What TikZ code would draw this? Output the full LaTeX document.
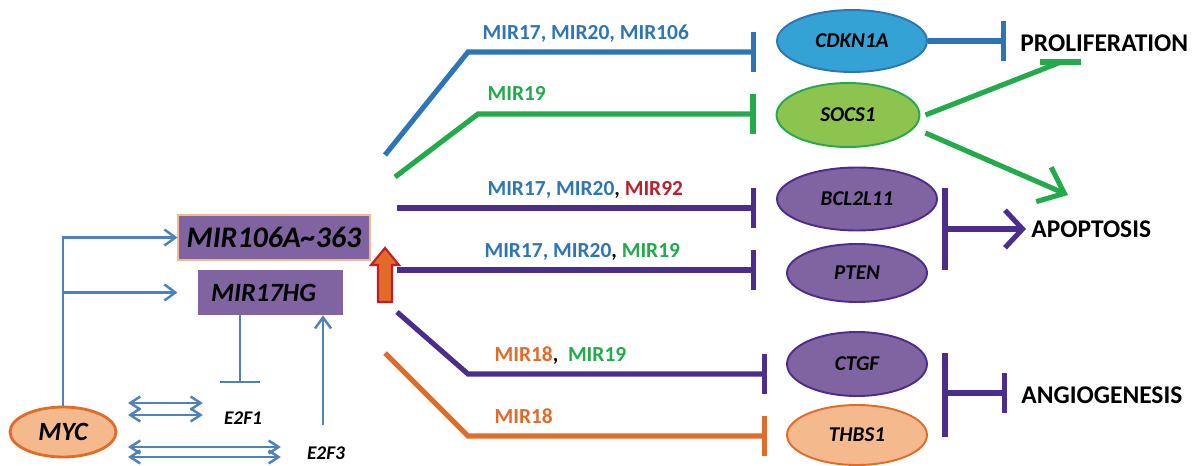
\documentclass[tikz,border=0pt]{standalone}
\usepackage{fontspec}
\setmainfont{Carlito}
\usetikzlibrary{positioning,calc,arrows.meta,shapes.geometric}
\definecolor{mblue}{RGB}{46,117,182}
\definecolor{lblue}{RGB}{79,129,189}
\definecolor{mgreen}{RGB}{34,170,75}
\definecolor{mpurple}{RGB}{75,45,140}
\definecolor{ppurple}{RGB}{128,100,162}
\definecolor{morange}{RGB}{226,107,40}
\definecolor{porange}{RGB}{244,185,140}
\definecolor{mred}{RGB}{192,30,40}
\definecolor{cblue}{RGB}{53,162,214}
\definecolor{cgreen}{RGB}{141,196,79}

\begin{document}
\begin{tikzpicture}[x=0.02cm,y=-0.02cm,
    gene/.style={ellipse, draw, line width=1.1pt, inner sep=0pt, font=\bfseries\itshape\fontsize{12}{14}\selectfont},
    mirbox/.style={rectangle, fill=ppurple, inner sep=0pt, font=\bfseries\itshape\fontsize{17}{20}\selectfont},
    fate/.style={anchor=west, inner sep=0pt, font=\bfseries\fontsize{14.5}{17}\selectfont},
    mirlabel/.style={anchor=base west, inner sep=0pt, yshift=0.25cm, font=\bfseries\fontsize{12.2}{14}\selectfont},
    tf/.style={lblue, line width=1.4pt},
    barbend/.style={-{Straight Barb[length=0.22cm, width=0.32cm]}},
    dblbarb/.style={{Straight Barb[length=0.2cm, width=0.26cm]}-{Straight Barb[length=0.2cm, width=0.26cm]}},
    bigline/.style={line width=2.9pt},
    tee/.style={-{Bar[width=0.8cm]}},
]
\useasboundingbox (0,0) rectangle (1200,466);

% regulators on the left
\node[gene, fill=porange, draw=morange, line width=1.6pt, minimum width=2.12cm, minimum height=1cm,
    font=\bfseries\itshape\fontsize{15}{18}\selectfont] (myc) at (63,432) {MYC};
\node[mirbox, draw=porange, line width=0.6pt, minimum width=3.84cm, minimum height=0.9cm] (mirA) at (274,237.5) {MIR106A\textasciitilde363};
\node[mirbox, minimum width=2.9cm, minimum height=0.9cm, text width=2.9cm, align=left, inner xsep=0pt,
    font=\bfseries\itshape\fontsize{15}{18}\selectfont] (mirHG) at (270.5,292.5) {\hspace*{0.26cm}MIR17HG};
\node[font=\bfseries\itshape\fontsize{11}{13}\selectfont] (e2fone) at (243,418) {E2F1};
\node[font=\bfseries\itshape\fontsize{11}{13}\selectfont] (e2fthree) at (326,453) {E2F3};

\draw[tf, barbend] (myc.north) |- (mirA.west);
\draw[tf, barbend] (myc.north |- mirHG.west) -- (mirHG.west -| mirA.west);

\coordinate (teeF) at (240,383);
\draw[tf, -{Bar[width=0.8cm]}] (mirHG.south -| teeF) -- (teeF);
\coordinate (upF) at (323,425);
\draw[tf, barbend] (upF) -- (upF |- mirHG.south);

\foreach \yy in {403,415}
    \draw[tf, dblbarb, shorten >=0.3cm] (128,\yy) -- (e2fone.west |- 0,\yy);
\foreach \yy in {447,457}
    \draw[tf, dblbarb, shorten >=0.4cm] (128,\yy) -- (e2fthree.west |- 0,\yy);

% up arrow
\draw[fill=morange, draw=mred, line width=1.2pt] (378,302) -- (378,265) -- (371,265) -- (385,248) -- (399,265) -- (392,265) -- (392,302) -- cycle;

% targets
\node[gene, fill=cblue, draw=mblue, minimum width=3cm, minimum height=1.24cm] (cdkn) at (852,41) {CDKN1A};
\node[gene, fill=cgreen, draw=mgreen, minimum width=2.86cm, minimum height=1.28cm] (socs) at (848,115) {SOCS1};
\node[gene, fill=ppurple, draw=mpurple, minimum width=3.2cm, minimum height=1.26cm] (bcl) at (857,199) {BCL2L11};
\node[gene, fill=ppurple, draw=mpurple, minimum width=2.8cm, minimum height=1.16cm] (pten) at (857,273) {PTEN};
\node[gene, fill=ppurple, draw=mpurple, minimum width=2.8cm, minimum height=1.28cm] (ctgf) at (857,364) {CTGF};
\node[gene, fill=porange, draw=morange, minimum width=2.8cm, minimum height=1.2cm] (thbs) at (857,435) {THBS1};

\node[fate] (prolif) at (1020,43) {PROLIFERATION};
\node[fate] (apop) at (1031,229) {APOPTOSIS};
\node[fate] (angio) at (1021,395) {ANGIOGENESIS};

% microRNA repression
\coordinate (sBlue) at (385,155);
\coordinate (kBlue) at (468,52);
\draw[bigline, mblue, tee, shorten >=0.4cm] (sBlue) -- (kBlue)
    -- node[pos=0, mirlabel, xshift=0.24cm] {\textcolor{mblue}{MIR17, MIR20, MIR106}} (kBlue -| cdkn.west);

\coordinate (sGreen) at (395,177);
\coordinate (kGreen) at (478,114);
\draw[bigline, mgreen, tee, shorten >=0.4cm] (sGreen) -- (kGreen)
    -- node[pos=0, mirlabel, xshift=0.14cm, yshift=0.03cm] {\textcolor{mgreen}{MIR19}} (kGreen -| socs.west);

\coordinate (sBcl) at (397,208);
\draw[bigline, mpurple, tee, shorten >=0.4cm] (sBcl)
    -- node[pos=0, mirlabel, xshift=1.76cm] {\textcolor{mblue}{MIR17, MIR20}\textcolor{black}{,} \textcolor{mred}{MIR92}} (sBcl -| bcl.west);

\coordinate (sPten) at (397,270);
\draw[bigline, mpurple, tee, shorten >=0.6cm] (sPten)
    -- node[pos=0, mirlabel, xshift=1.7cm] {\textcolor{mblue}{MIR17, MIR20}\textcolor{black}{,} \textcolor{mgreen}{MIR19}} (sPten -| pten.west);

\coordinate (sCtgf) at (397,312);
\coordinate (kCtgf) at (468,374);
\draw[bigline, mpurple, tee, shorten >=0.38cm] (sCtgf) -- (kCtgf)
    -- node[pos=0, mirlabel, xshift=0.48cm] {\textcolor{morange}{MIR18}\textcolor{black}{,}\ \ \textcolor{mgreen}{MIR19}} (kCtgf -| ctgf.west);

\coordinate (sThbs) at (385,353);
\coordinate (kThbs) at (468,436);
\draw[bigline, morange, tee, shorten >=0.38cm] (sThbs) -- (kThbs)
    -- node[pos=0, mirlabel, xshift=0.48cm] {\textcolor{morange}{MIR18}} (kThbs -| thbs.west);

% outcomes
\draw[bigline, mblue, tee, shorten >=0.28cm] (cdkn.east) -- (cdkn.east -| prolif.west);

\coordinate (pBar) at (1061,62);
\draw[bigline, mgreen] ([xshift=0.1cm]socs.east) -- (pBar);
\draw[bigline, mgreen] ([xshift=-0.42cm]pBar) -- ([xshift=0.4cm]pBar);
\coordinate (aTip) at (1068,195);
\draw[bigline, mgreen, -{Straight Barb[length=0.45cm, width=0.75cm]}] ($(socs.east)+(5,18)$) -- (aTip);

\draw[bigline, mpurple] (945,188) -- (945,270);
\draw[bigline, mpurple, -{Straight Barb[length=0.35cm, width=0.75cm]}, shorten >=0.1cm] (945,229) -- (apop.west |- 0,229);

\draw[bigline, mpurple] (945,353) -- (945,437);
\draw[bigline, mpurple, tee, shorten >=0.28cm] (945,393) -- (angio.west |- 0,393);
\end{tikzpicture}
\end{document}
